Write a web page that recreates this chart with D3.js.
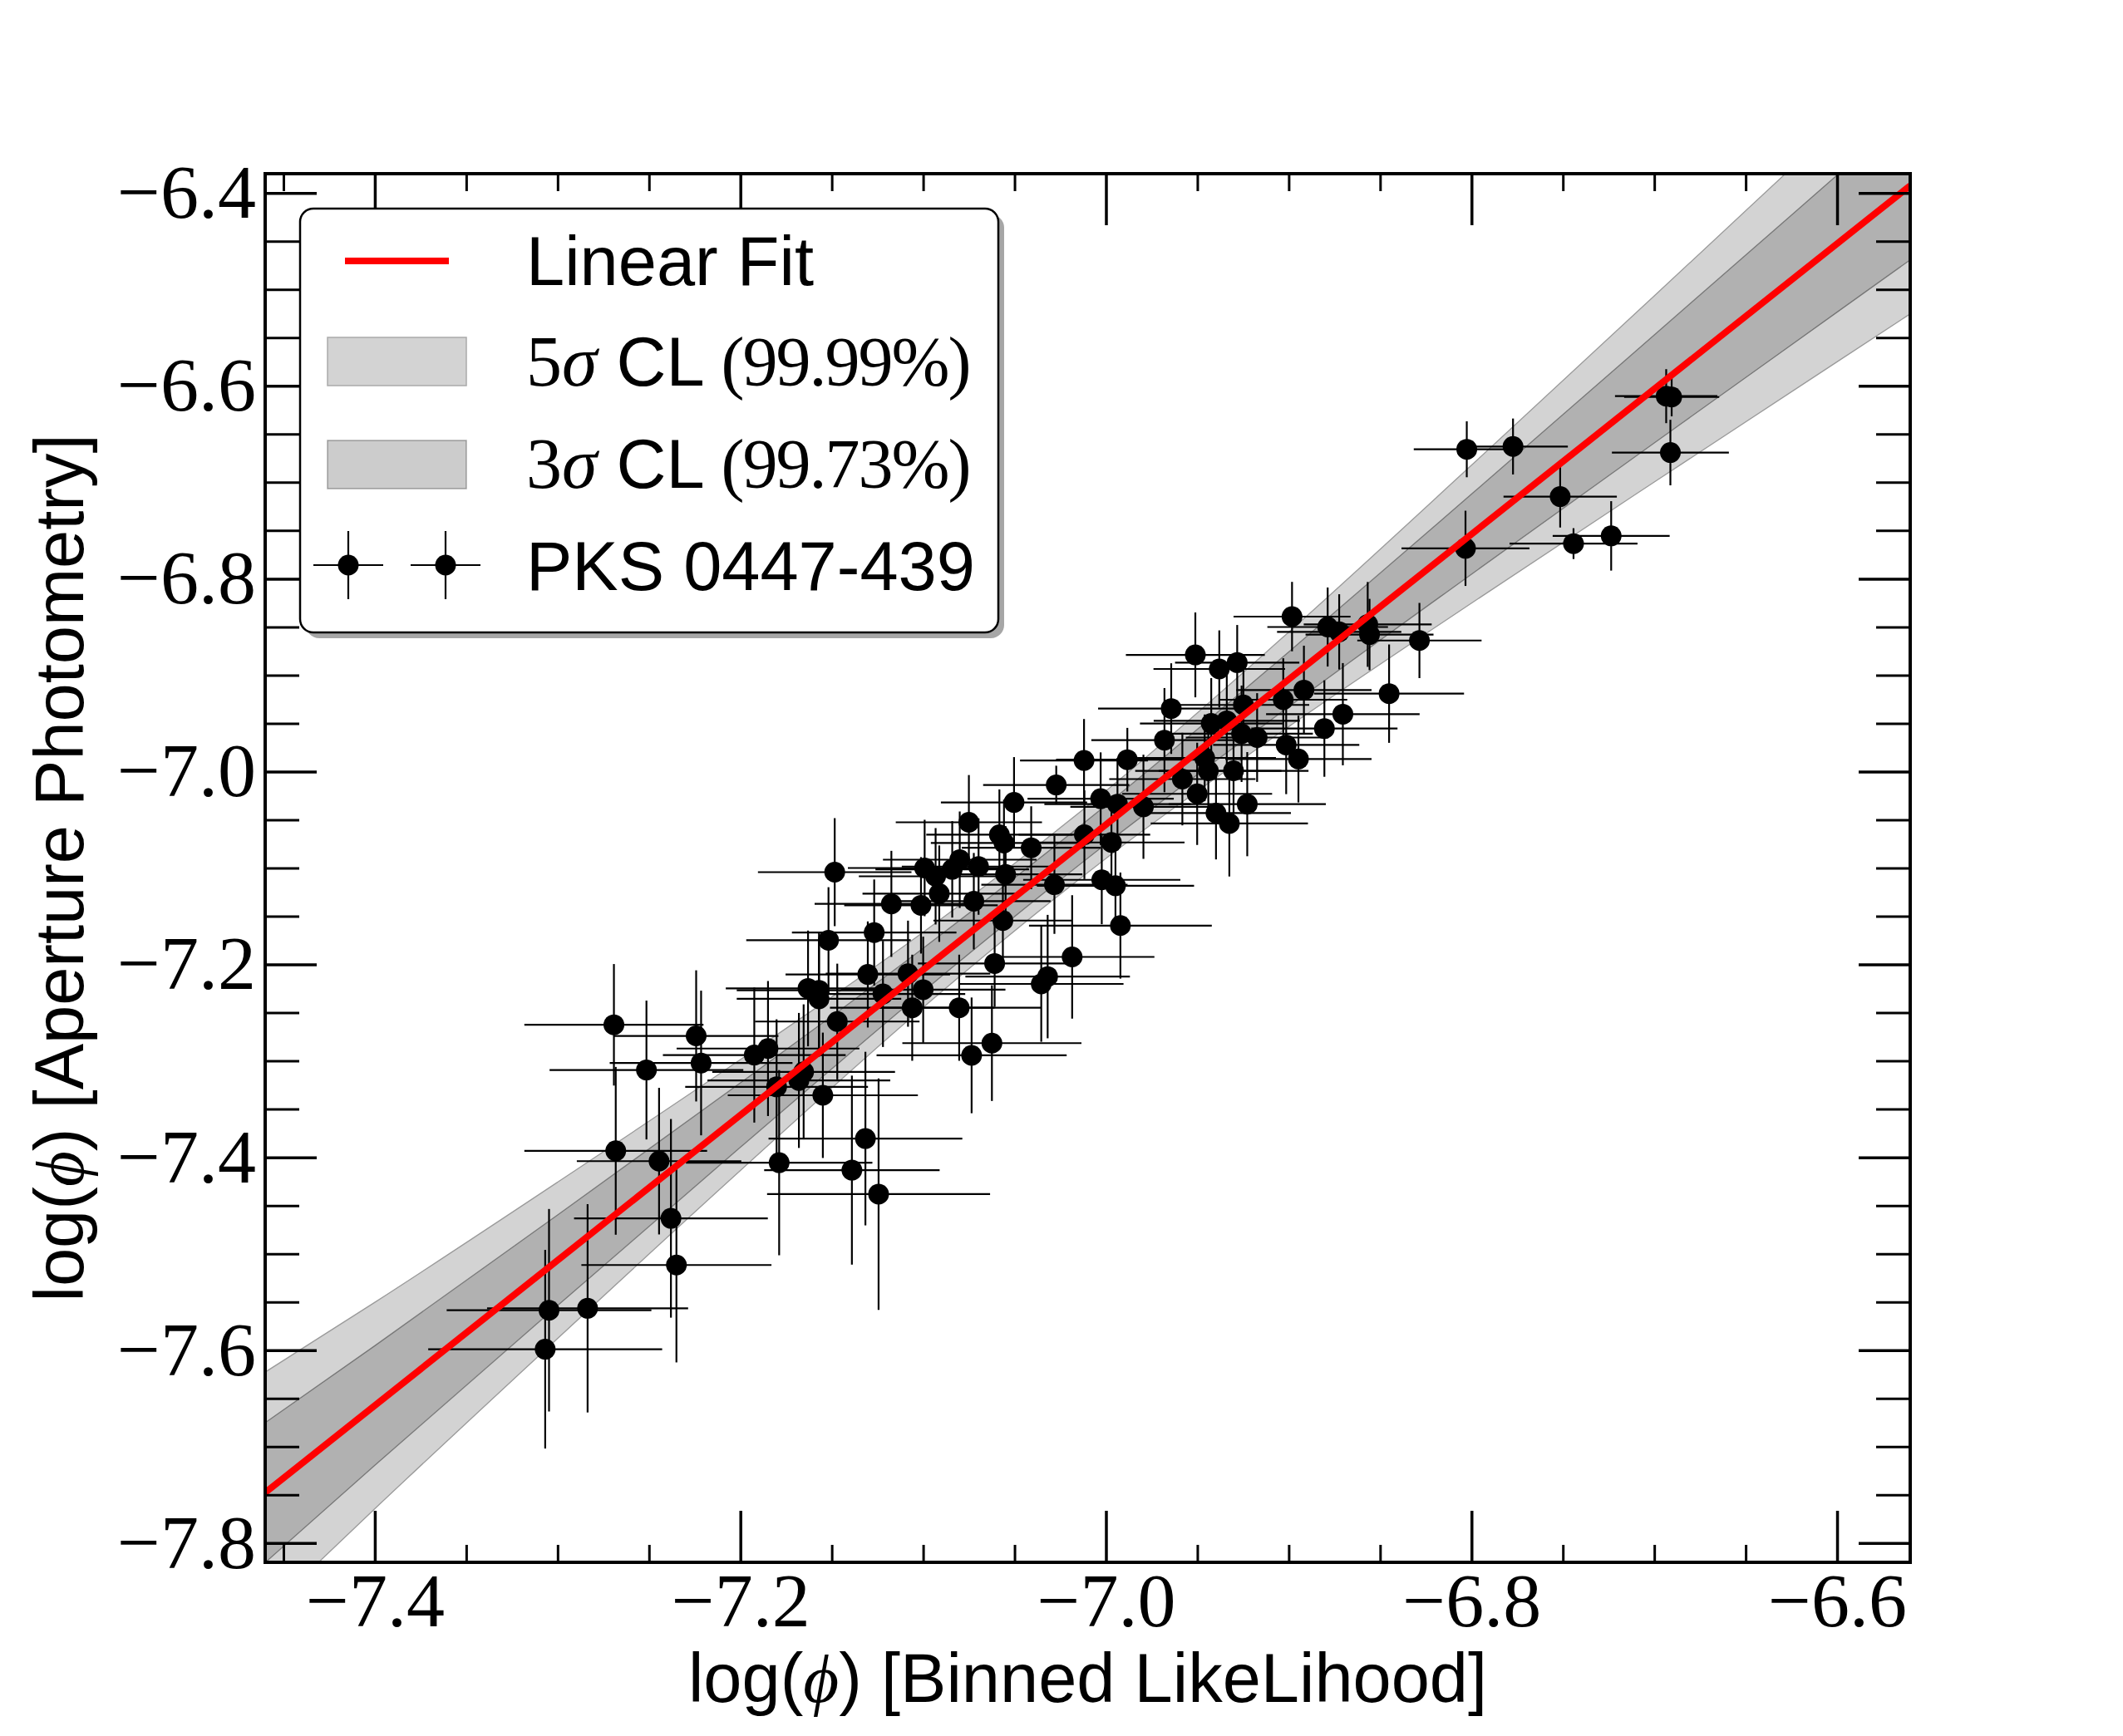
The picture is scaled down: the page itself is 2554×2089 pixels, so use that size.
<!DOCTYPE html>
<html>
<head>
<meta charset="utf-8">
<script src="https://cdn.jsdelivr.net/npm/d3@7"></script>
<style>
  body { margin: 0; background: #fff; }
</style>
</head>
<body>
<div id="chart"></div>
<script>
/**
 * Data
 */
// log(phi) from binned likelihood (x) and aperture photometry (y)
const binnedLL = [
  -6.8026, -6.7773, -6.6935, -6.6905, -6.6912, -6.7515, -6.8033, -6.7442, -6.7236, -6.8285, -6.8451,
  -6.8982, -6.8787, -6.8724, -6.8568, -6.8558, -6.9511, -6.9380, -6.9282, -6.8917, -6.9030,
  -6.9643, -6.9248, -6.8704, -6.8805, -6.9424, -6.9339, -6.9258, -6.9173, -6.9680, -6.9014,
  -6.8947, -7.0120, -6.9883, -7.0272, -7.0029, -6.9937, -6.9795, -6.9460, -6.9440, -6.9302,
  -6.9582, -6.9501, -6.9227, -6.9398, -6.9325, -7.0282, -7.0023, -6.9948, -6.9921, -7.0185,
  -7.0319, -7.0354, -7.0118, -6.9970,
  -7.0503, -7.0750, -7.0583, -7.0558, -7.0409, -7.0564, -7.0609, -7.0803, -7.0624, -7.0735,
  -7.0992, -7.0932, -7.0841, -7.0800, -7.0697, -7.0549, -7.0912, -7.0723, -7.1174, -7.1012,
  -7.1268, -7.1518, -7.1303, -7.1220, -7.1083, -7.1000, -7.1060, -7.1470, -7.1484, -7.1630,
  -7.1570, -7.1570, -7.1849, -7.1924, -7.1654, -7.1680, -7.1802, -7.1549, -7.1316, -7.1788,
  -7.1390, -7.1244,
  -7.2692, -7.2242, -7.2514, -7.2215, -7.2682, -7.2445, -7.2380, -7.2350, -7.3047, -7.2836, -7.3068
];
const aperture = [
  -6.6658, -6.6629, -6.6107, -6.6116, -6.6692, -6.7149, -6.7685, -6.7636, -6.7556, -6.8641, -6.9192,
  -6.8393, -6.8501, -6.8551, -6.8474, -6.8579, -6.8790, -6.8936, -6.8870, -6.9155, -6.9255,
  -6.9347, -6.9309, -6.9405, -6.9554, -6.9501, -6.9474, -6.9608, -6.9647, -6.9674, -6.9724,
  -6.9870, -6.9885, -6.9877, -7.0139, -7.0281, -7.0338, -7.0365, -6.9858, -6.9992, -6.9992,
  -7.0078, -7.0231, -7.0338, -7.0431, -7.0538, -7.1173, -7.1123, -7.1184, -7.1597, -7.1922,
  -7.2126, -7.2202, -7.0655, -7.0735,
  -7.0320, -7.0526, -7.0655, -7.0741, -7.0790, -7.1545, -7.1990, -7.2449, -7.2816, -7.2943,
  -7.1000, -7.1086, -7.1014, -7.0914, -7.0985, -7.1066, -7.1266, -7.1344, -7.1372, -7.1387,
  -7.1669, -7.1749, -7.2104, -7.2306, -7.2096, -7.2262, -7.2449, -7.2592, -7.1043, -7.2249,
  -7.2268, -7.2357, -7.2872, -7.2940, -7.3114, -7.3203, -7.3269, -7.3357, -7.3806, -7.4056,
  -7.4133, -7.4382,
  -7.2626, -7.2741, -7.3095, -7.3022, -7.3933, -7.4040, -7.4633, -7.5117, -7.5586, -7.5566, -7.5990
];
const binnedErr = [
  0.029, 0.030, 0.028, 0.026, 0.032, 0.031, 0.035, 0.035, 0.032, 0.034, 0.041,
  0.032, 0.033, 0.034, 0.035, 0.035, 0.038, 0.036, 0.034, 0.037, 0.035,
  0.040, 0.036, 0.042, 0.040, 0.039, 0.040, 0.039, 0.039, 0.040, 0.040,
  0.040, 0.035, 0.039, 0.040, 0.040, 0.040, 0.040, 0.039, 0.040, 0.041,
  0.040, 0.041, 0.043, 0.041, 0.043, 0.040, 0.043, 0.043, 0.050, 0.045,
  0.045, 0.045, 0.036, 0.040,
  0.040, 0.040, 0.040, 0.040, 0.038, 0.038, 0.042, 0.045, 0.049, 0.052,
  0.042, 0.042, 0.042, 0.042, 0.042, 0.042, 0.042, 0.042, 0.042, 0.042,
  0.045, 0.045, 0.045, 0.045, 0.045, 0.045, 0.045, 0.045, 0.042, 0.045,
  0.045, 0.045, 0.050, 0.050, 0.050, 0.050, 0.050, 0.052, 0.053, 0.051,
  0.048, 0.061,
  0.049, 0.045, 0.053, 0.050, 0.050, 0.045, 0.053, 0.052, 0.056, 0.055, 0.064
];
const apertureErr = [
  0.029, 0.029, 0.028, 0.020, 0.034, 0.032, 0.039, 0.016, 0.036, 0.039, 0.051,
  0.036, 0.041, 0.039, 0.044, 0.037, 0.044, 0.040, 0.039, 0.046, 0.043,
  0.047, 0.039, 0.053, 0.050, 0.047, 0.052, 0.050, 0.046, 0.054, 0.051,
  0.045, 0.043, 0.033, 0.020, 0.048, 0.048, 0.054, 0.045, 0.045, 0.045,
  0.048, 0.053, 0.054, 0.048, 0.055, 0.051, 0.046, 0.048, 0.055, 0.064,
  0.064, 0.060, 0.046, 0.045,
  0.047, 0.049, 0.047, 0.045, 0.043, 0.040, 0.045, 0.055, 0.060, 0.060,
  0.050, 0.050, 0.050, 0.050, 0.050, 0.050, 0.050, 0.050, 0.055, 0.050,
  0.055, 0.055, 0.055, 0.055, 0.055, 0.055, 0.055, 0.060, 0.056, 0.060,
  0.060, 0.060, 0.070, 0.070, 0.070, 0.070, 0.070, 0.065, 0.090, 0.096,
  0.098, 0.120,
  0.063, 0.068, 0.072, 0.075, 0.087, 0.076, 0.103, 0.101, 0.105, 0.108, 0.103
];

// linear fit and its confidence bands (half widths read at bandX)
const fitSlope = 1.506;
const fitIntercept = 3.487;
const bandX = [-7.46, -7.4, -7.3, -7.2, -7.1, -7.0, -6.9, -6.8, -6.7, -6.6, -6.56];
const band5Half = [0.125, 0.107, 0.081, 0.0575, 0.039, 0.035, 0.049, 0.0715, 0.0965, 0.1225, 0.133];
const band3Half = [0.0725, 0.062, 0.047, 0.0334, 0.0225, 0.0201, 0.0285, 0.0415, 0.056, 0.071, 0.077];

// ticks
const xMajor = [-7.4, -7.2, -7.0, -6.8, -6.6];
const yMajor = [-7.8, -7.6, -7.4, -7.2, -7.0, -6.8, -6.6, -6.4];
const xMinor = [-7.45, -7.35, -7.3, -7.25, -7.15, -7.1, -7.05, -6.95, -6.9, -6.85, -6.75, -6.7, -6.65];
const yMinor = [-7.75, -7.7, -7.65, -7.55, -7.5, -7.45, -7.35, -7.3, -7.25, -7.15, -7.1, -7.05,
  -6.95, -6.9, -6.85, -6.75, -6.7, -6.65, -6.55, -6.5, -6.45];

/**
 * Basic Settings
 */
const canvasWidth = 2554;
const canvasHeight = 2089;
const plot = { left: 319, right: 2298, top: 209, bottom: 1880 };

const sansFont = "'Liberation Sans', Arial, sans-serif";
const serifFont = "'Liberation Serif', 'DejaVu Serif', serif";

const svg = d3.select("#chart")
  .append("svg")
  .attr("width", canvasWidth)
  .attr("height", canvasHeight)
  .style("background", "#fff");

/**
 * Scale
 */
const xScale = d3.scaleLinear()
  .domain([-7.46, -6.56])
  .range([plot.left, plot.right]);

const yScale = d3.scaleLinear()
  .domain([-7.82, -6.38])
  .range([plot.bottom, plot.top]);

const points = binnedLL.map(function(d, i) {
  return { x: d, y: aperture[i], ex: binnedErr[i], ey: apertureErr[i] };
});

svg.append("defs")
  .append("clipPath")
  .attr("id", "plot-clip")
  .append("rect")
  .attr("x", plot.left)
  .attr("y", plot.top)
  .attr("width", plot.right - plot.left)
  .attr("height", plot.bottom - plot.top);

const plotArea = svg.append("g").attr("clip-path", "url(#plot-clip)");

/**
 * Confidence bands
 */
function fit(x) {
  return fitSlope * x + fitIntercept;
}

function bandArea(half) {
  return d3.area()
    .x(function(d) { return xScale(d); })
    .y0(function(d, i) { return yScale(fit(d) - half[i]); })
    .y1(function(d, i) { return yScale(fit(d) + half[i]); })
    .curve(d3.curveMonotoneX);
}

plotArea.append("path")
  .datum(bandX)
  .attr("d", bandArea(band5Half))
  .style("fill", "#d3d3d3")
  .style("stroke", "#9a9a9a")
  .style("stroke-width", 1.3);

plotArea.append("path")
  .datum(bandX)
  .attr("d", bandArea(band3Half))
  .style("fill", "rgba(128,128,128,0.4)")
  .style("stroke", "rgba(70,70,70,0.6)")
  .style("stroke-width", 1.3);

/**
 * Error bars and points
 */
const bars = plotArea.append("g")
  .style("stroke", "#000")
  .style("stroke-width", 2.2);

bars.selectAll(".xerr")
  .data(points)
  .enter()
  .append("line")
  .attr("x1", function(d) { return xScale(d.x - d.ex); })
  .attr("x2", function(d) { return xScale(d.x + d.ex); })
  .attr("y1", function(d) { return yScale(d.y); })
  .attr("y2", function(d) { return yScale(d.y); });

bars.selectAll(".yerr")
  .data(points)
  .enter()
  .append("line")
  .attr("x1", function(d) { return xScale(d.x); })
  .attr("x2", function(d) { return xScale(d.x); })
  .attr("y1", function(d) { return yScale(d.y - d.ey); })
  .attr("y2", function(d) { return yScale(d.y + d.ey); });

plotArea.append("g")
  .selectAll("circle")
  .data(points)
  .enter()
  .append("circle")
  .attr("cx", function(d) { return xScale(d.x); })
  .attr("cy", function(d) { return yScale(d.y); })
  .attr("r", 12.5)
  .attr("fill", "#000");

/**
 * Fit line
 */
const fitLine = d3.line()
  .x(function(d) { return xScale(d); })
  .y(function(d) { return yScale(fit(d)); });

plotArea.append("path")
  .datum(xScale.domain())
  .attr("d", fitLine)
  .style("fill", "none")
  .style("stroke", "#ff0000")
  .style("stroke-width", 8);

/**
 * Axis (ticks point inward on all four sides)
 */
const fmt = d3.format(".1f");

function styleAxis(g, width) {
  g.select(".domain").remove();
  g.selectAll(".tick line").style("stroke", "#000").style("stroke-width", width);
  g.selectAll("text")
    .style("font-family", serifFont)
    .style("font-size", "92px")
    .attr("fill", "#000");
}

svg.append("g")
  .attr("transform", "translate(0," + plot.bottom + ")")
  .call(d3.axisBottom(xScale).tickValues(xMajor).tickFormat(fmt).tickSizeInner(-62).tickSizeOuter(0).tickPadding(12))
  .call(styleAxis, 3.5);

svg.append("g")
  .attr("transform", "translate(0," + plot.bottom + ")")
  .call(d3.axisBottom(xScale).tickValues(xMinor).tickFormat("").tickSizeInner(-21).tickSizeOuter(0))
  .call(styleAxis, 3);

svg.append("g")
  .attr("transform", "translate(0," + plot.top + ")")
  .call(d3.axisTop(xScale).tickValues(xMajor).tickFormat("").tickSizeInner(-62).tickSizeOuter(0))
  .call(styleAxis, 3.5);

svg.append("g")
  .attr("transform", "translate(0," + plot.top + ")")
  .call(d3.axisTop(xScale).tickValues(xMinor).tickFormat("").tickSizeInner(-21).tickSizeOuter(0))
  .call(styleAxis, 3);

svg.append("g")
  .attr("transform", "translate(" + plot.left + ",0)")
  .call(d3.axisLeft(yScale).tickValues(yMajor).tickFormat(fmt).tickSizeInner(-62).tickSizeOuter(0).tickPadding(11))
  .call(styleAxis, 3.5);

svg.append("g")
  .attr("transform", "translate(" + plot.left + ",0)")
  .call(d3.axisLeft(yScale).tickValues(yMinor).tickFormat("").tickSizeInner(-41).tickSizeOuter(0))
  .call(styleAxis, 3);

svg.append("g")
  .attr("transform", "translate(" + plot.right + ",0)")
  .call(d3.axisRight(yScale).tickValues(yMajor).tickFormat("").tickSizeInner(-62).tickSizeOuter(0))
  .call(styleAxis, 3.5);

svg.append("g")
  .attr("transform", "translate(" + plot.right + ",0)")
  .call(d3.axisRight(yScale).tickValues(yMinor).tickFormat("").tickSizeInner(-41).tickSizeOuter(0))
  .call(styleAxis, 3);

/**
 * Legend (drawn over the ticks)
 */
const legend = svg.append("g");

legend.append("rect")
  .attr("x", 368).attr("y", 258)
  .attr("width", 840).attr("height", 510)
  .attr("rx", 16)
  .attr("fill", "rgba(0,0,0,0.35)");

legend.append("rect")
  .attr("x", 361).attr("y", 251)
  .attr("width", 840).attr("height", 510)
  .attr("rx", 16)
  .attr("fill", "#fff")
  .attr("stroke", "#000")
  .attr("stroke-width", 2.5);

legend.append("line")
  .attr("x1", 415).attr("x2", 540)
  .attr("y1", 314).attr("y2", 314)
  .style("stroke", "#ff0000")
  .style("stroke-width", 8);

legend.append("rect")
  .attr("x", 394).attr("y", 406)
  .attr("width", 167).attr("height", 58)
  .attr("fill", "#d3d3d3")
  .attr("stroke", "#aaaaaa")
  .attr("stroke-width", 1.5);

legend.append("rect")
  .attr("x", 394).attr("y", 530)
  .attr("width", 167).attr("height", 58)
  .attr("fill", "rgba(128,128,128,0.4)")
  .attr("stroke", "rgba(70,70,70,0.45)")
  .attr("stroke-width", 1.5);

[419, 536].forEach(function(cx) {
  legend.append("line")
    .attr("x1", cx - 42).attr("x2", cx + 42)
    .attr("y1", 680).attr("y2", 680)
    .style("stroke", "#000").style("stroke-width", 2.2);
  legend.append("line")
    .attr("x1", cx).attr("x2", cx)
    .attr("y1", 639).attr("y2", 721)
    .style("stroke", "#000").style("stroke-width", 2.2);
  legend.append("circle")
    .attr("cx", cx).attr("cy", 680)
    .attr("r", 12.5)
    .attr("fill", "#000");
});

function legendText(y) {
  return legend.append("text")
    .attr("x", 633)
    .attr("y", y)
    .attr("fill", "#000")
    .style("font-family", sansFont)
    .style("font-size", "83px");
}

legendText(343).text("Linear Fit");

[[464, "5", "99.99%"], [587, "3", "99.73%"]].forEach(function(row) {
  const t = legendText(row[0]);
  t.append("tspan").style("font-family", serifFont).style("font-size", "86px").text(row[1]);
  t.append("tspan").style("font-family", serifFont).style("font-size", "86px").style("font-style", "italic").text("σ");
  t.append("tspan").text(" CL ");
  t.append("tspan")
    .style("font-family", serifFont)
    .style("font-size", "84px")
    .style("letter-spacing", "-2px")
    .text("(" + row[2] + ")");
});

legendText(710).text("PKS 0447-439");

/**
 * Frame and axis labels
 */
svg.append("rect")
  .attr("x", plot.left)
  .attr("y", plot.top)
  .attr("width", plot.right - plot.left)
  .attr("height", plot.bottom - plot.top)
  .attr("fill", "none")
  .attr("stroke", "#000")
  .attr("stroke-width", 4);

function axisLabel(g, rest) {
  g.attr("fill", "#000")
    .style("font-family", sansFont)
    .style("font-size", "83px")
    .attr("text-anchor", "middle");
  g.append("tspan").text("log(");
  g.append("tspan").style("font-family", serifFont).style("font-style", "italic").text("ϕ");
  g.append("tspan").text(") " + rest);
}

svg.append("text")
  .attr("x", (plot.left + plot.right) / 2)
  .attr("y", 2048)
  .call(axisLabel, "[Binned LikeLihood]");

svg.append("text")
  .attr("transform", "translate(100," + (plot.top + plot.bottom) / 2 + ") rotate(-90)")
  .call(axisLabel, "[Aperture Photometry]");
</script>
</body>
</html>
